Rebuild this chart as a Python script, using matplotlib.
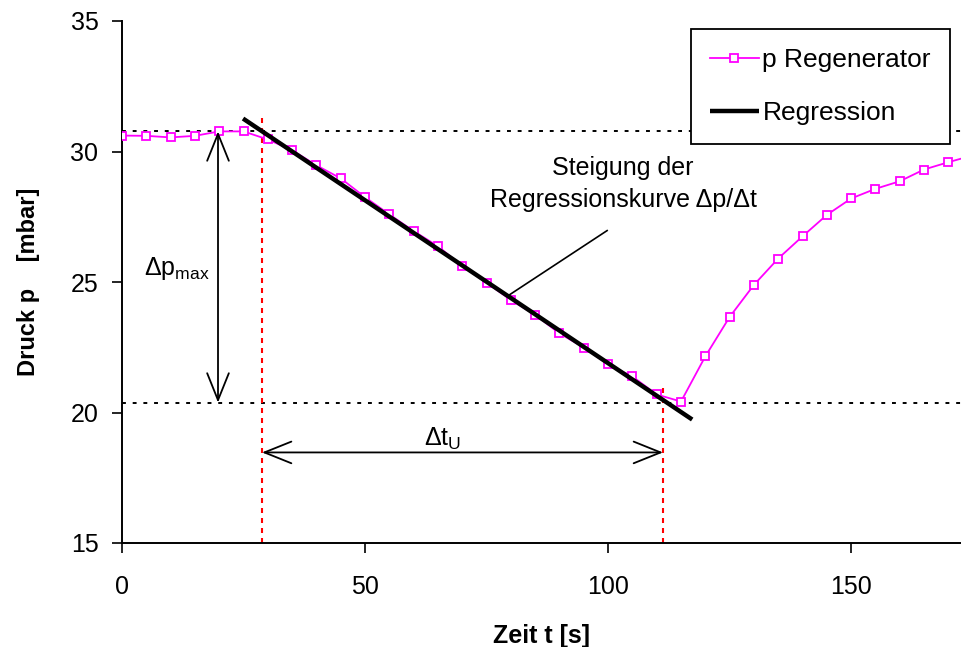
import matplotlib
matplotlib.use("Agg")
import matplotlib.pyplot as plt
import numpy as np

plt.rcParams['font.family'] = ['Liberation Sans', 'DejaVu Sans']
plt.rcParams['mathtext.fontset'] = 'custom'
plt.rcParams['mathtext.rm'] = 'Liberation Sans'

# ---- data ----
zeit = [0, 5, 10, 15, 20, 25, 30, 35, 40, 45, 50, 55, 60, 65, 70, 75, 80, 85, 90,
        95, 100, 105, 110, 115, 120, 125, 130, 135, 140, 145, 150, 155, 160, 165, 170, 175]
druck = [30.61, 30.60, 30.54, 30.60, 30.77, 30.77, 30.46, 30.05, 29.47, 28.97, 28.25,
         27.59, 26.95, 26.37, 25.61, 24.97, 24.31, 23.74, 23.03, 22.49, 21.84, 21.38,
         20.69, 20.42, 22.15, 23.66, 24.89, 25.90, 26.75, 27.57, 28.20, 28.57, 28.86,
         29.31, 29.59, 29.85]

reg_intercept = 34.37
reg_slope = -0.1248
reg_t = [24.9, 117.3]

p_max_level = 30.77
p_min_level = 20.38
t_start = 28.8
t_end = 111.3

x_ticks = [0, 50, 100, 150]
y_ticks = [15, 20, 25, 30, 35]

FS = 18

fig = plt.figure(figsize=(9.61, 6.47), dpi=100)
ax = fig.add_axes([122/961, 104/647, 839/961, 522/647])
ax.set_xlim(0, 172.6)
ax.set_ylim(15, 35)

# reference lines
ax.axhline(p_max_level, color='black', lw=1.4, ls=(0, (2.0, 3.5)), zorder=1)
ax.axhline(p_min_level, color='black', lw=1.4, ls=(0, (2.0, 3.5)), zorder=1)
ax.plot([t_start, t_start], [15, 31.4], color='#FF0000', lw=1.5, ls=(0, (2.4, 2.4)), zorder=1, clip_on=False)
ax.plot([t_end, t_end], [15, 21.07], color='#FF0000', lw=1.5, ls=(0, (2.4, 2.4)), zorder=1, clip_on=False)

# series
ax.plot(zeit, druck, color='#FF00FF', lw=1.3, marker='s', markersize=5.5,
        markerfacecolor='white', markeredgecolor='#FF00FF', markeredgewidth=1.3,
        label='p Regenerator', zorder=3)
rt = np.array(reg_t)
ax.plot(rt, reg_intercept + reg_slope * rt, color='black', lw=3.2, label='Regression',
        zorder=4, solid_capstyle='butt')

# arrows
arrow_style = '<->,head_length=0.97,head_width=0.39'
ax.annotate('', xy=(19.75, p_max_level), xytext=(19.75, p_min_level),
            arrowprops=dict(arrowstyle=arrow_style, lw=1.3, color='black',
                            shrinkA=0, shrinkB=0, mutation_scale=20))
ax.annotate('', xy=(t_start, 18.47), xytext=(t_end, 18.47),
            arrowprops=dict(arrowstyle=arrow_style, lw=1.3, color='black',
                            shrinkA=0, shrinkB=0, mutation_scale=20))

ax.text(18.1, 25.52, r'Δp$_\mathregular{max}$', ha='right', va='center', fontsize=FS)
ax.text(66.0, 19.0, r'Δt$_\mathregular{U}$', ha='center', va='center', fontsize=FS)
ax.text(103.1, 28.75, 'Steigung der\nRegressionskurve Δp/Δt', ha='center', va='center',
        fontsize=FS, linespacing=1.45, multialignment='center')
ax.plot([99.8, 79.8], [26.97, 24.52], color='black', lw=1.2, zorder=5)

# axes styling
for s in ['top', 'right']:
    ax.spines[s].set_visible(False)
for s in ['left', 'bottom']:
    ax.spines[s].set_linewidth(1.4)
ax.set_xticks(x_ticks)
ax.set_yticks(y_ticks)
ax.tick_params(axis='x', direction='out', length=7, width=1.2, labelsize=FS, pad=16)
ax.tick_params(axis='y', direction='out', length=7, width=1.2, labelsize=FS, pad=10)
ax.set_xlabel('Zeit t [s]', fontsize=FS, fontweight='bold', labelpad=18)
ax.set_ylabel('Druck p    [mbar]', fontsize=17, fontweight='bold', labelpad=22)

leg = ax.legend(loc='upper right', bbox_to_anchor=(950/961, 1 - 29/647),
                bbox_transform=fig.transFigure, borderaxespad=0, fontsize=19,
                frameon=True, fancybox=False, edgecolor='black', framealpha=1,
                handlelength=1.85, handletextpad=0.15, labelspacing=1.1,
                borderpad=0.72)
leg.get_frame().set_linewidth(1.3)

fig.savefig('out.png', dpi=100)
